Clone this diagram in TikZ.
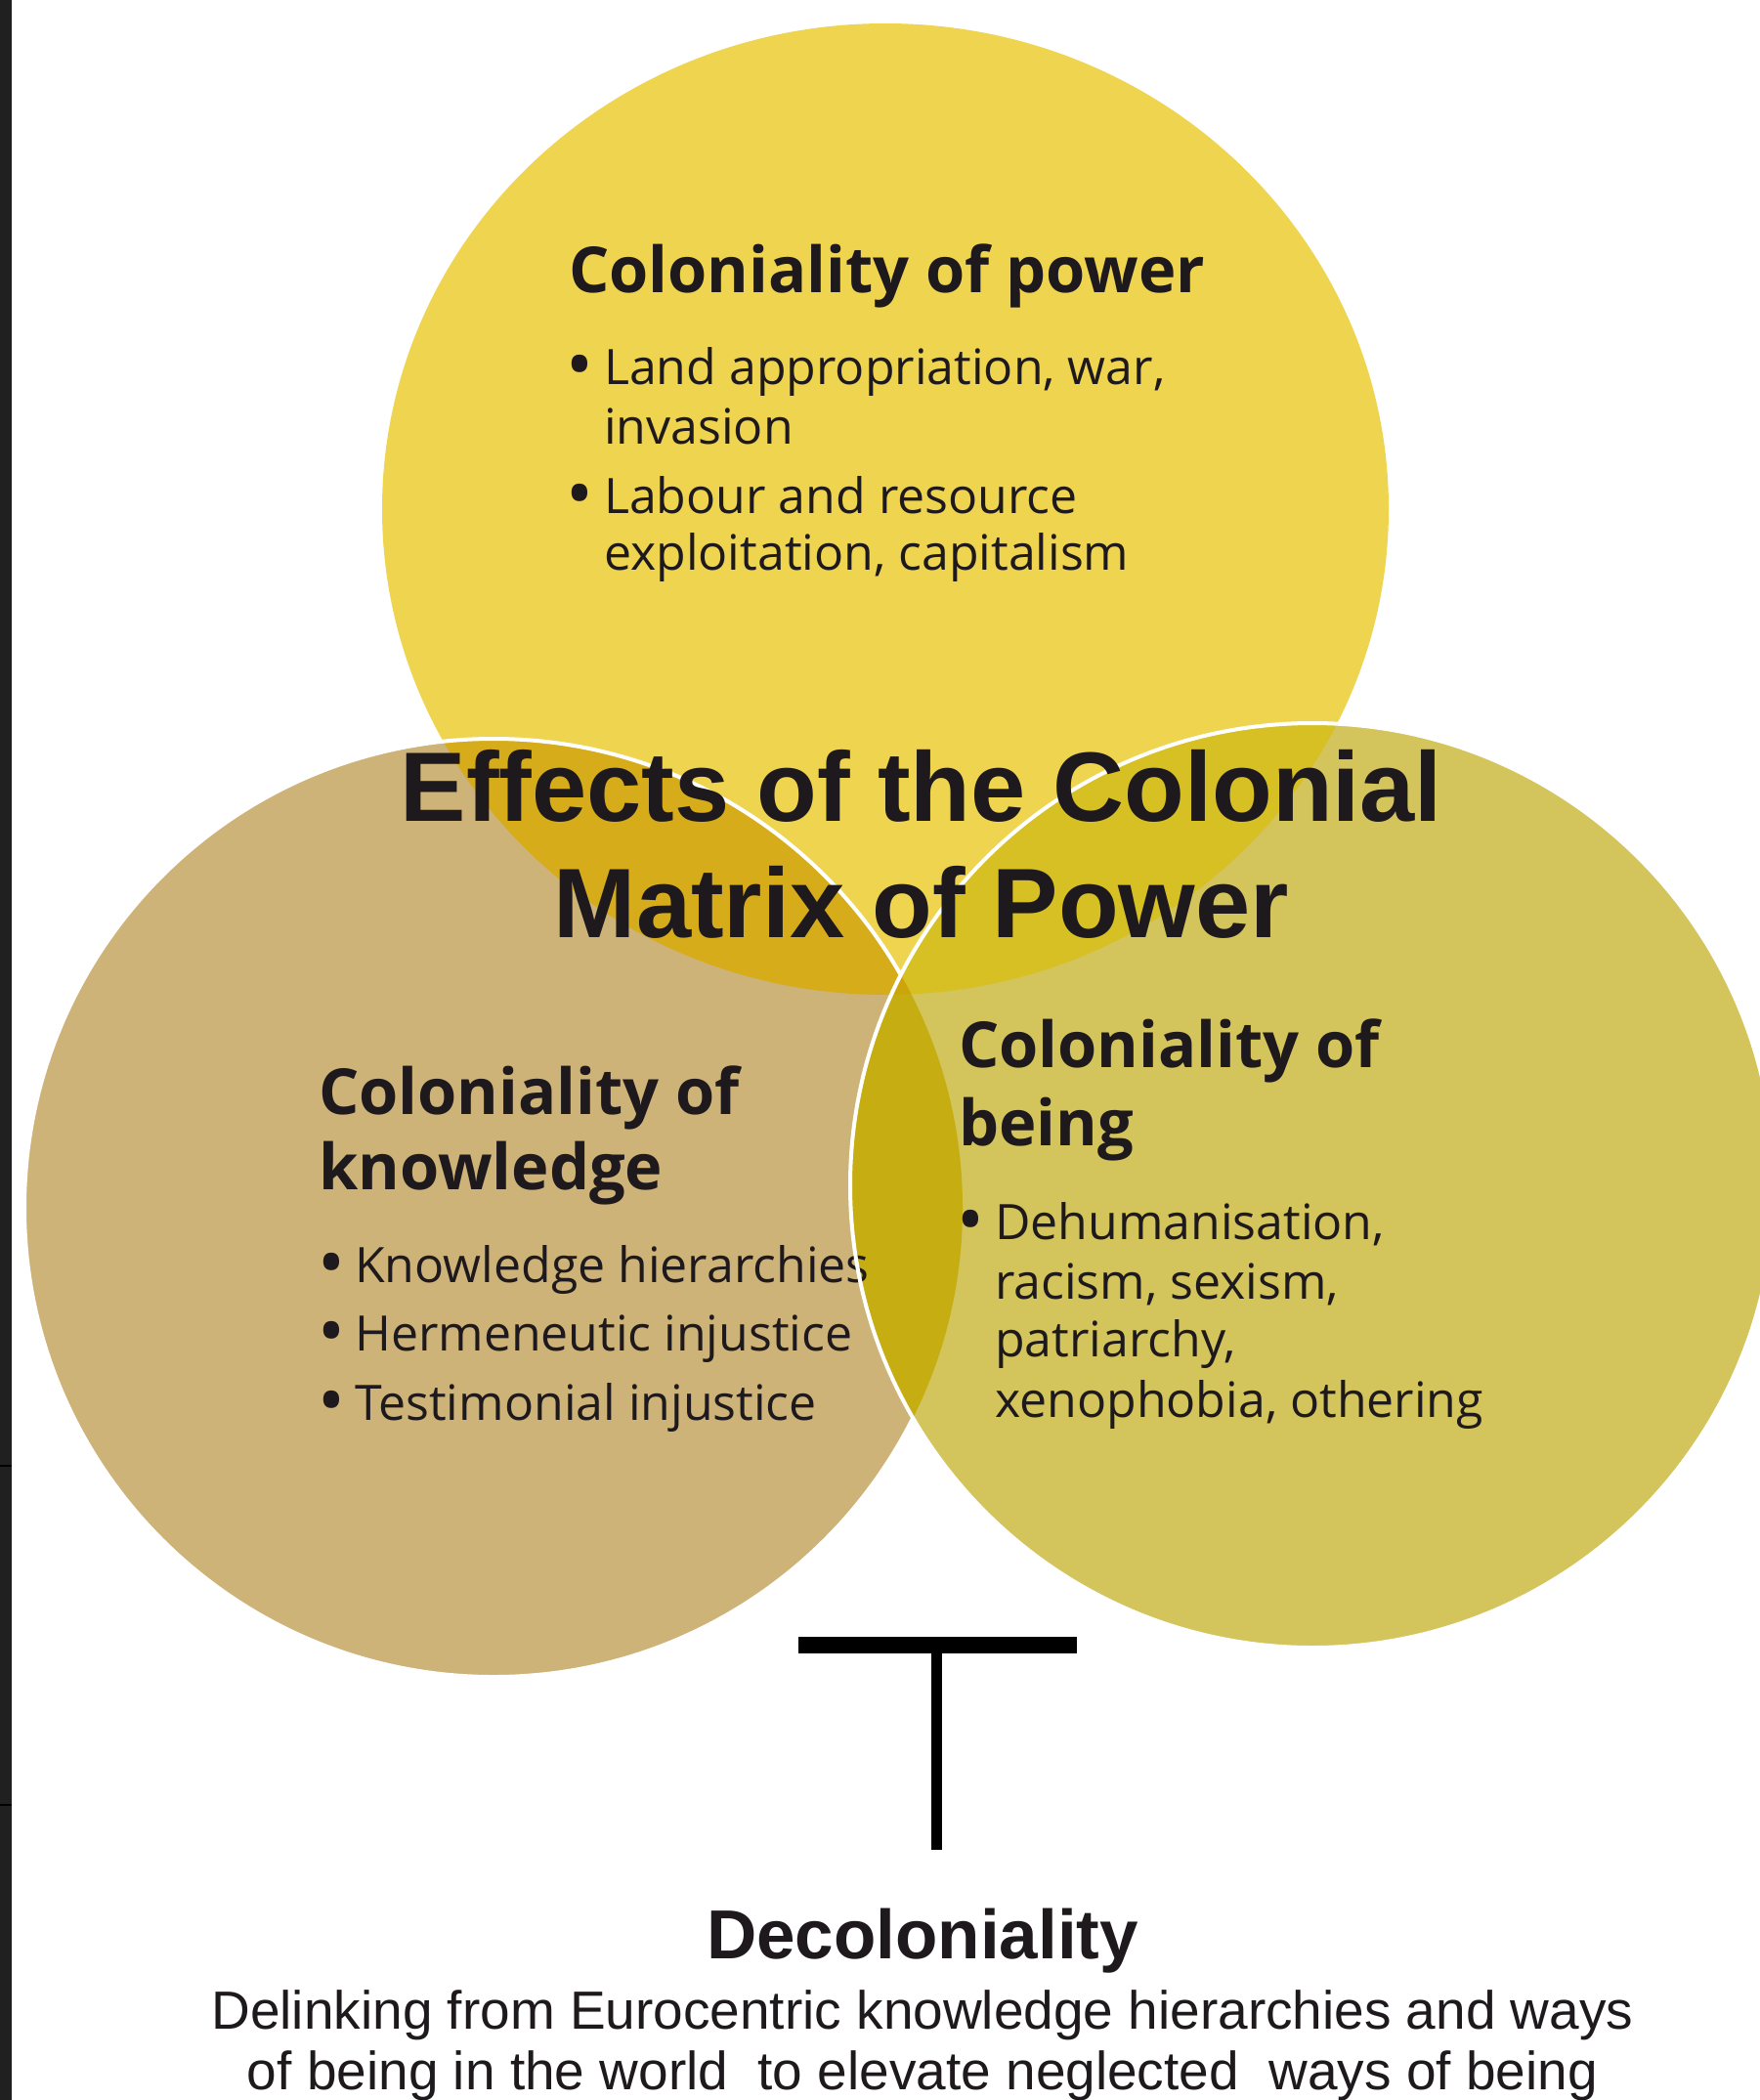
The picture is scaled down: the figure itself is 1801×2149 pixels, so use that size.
\documentclass[tikz,border=0pt]{standalone}
\usepackage{fontspec}
\setmainfont{Liberation Sans}
\newfontfamily\apt{Open Sans}
\definecolor{topc}{RGB}{238,212,79}
\definecolor{leftc}{RGB}{206,179,120}
\definecolor{rightc}{RGB}{211,196,91}
\definecolor{tlc}{RGB}{214,172,26}
\definecolor{trc}{RGB}{214,192,36}
\definecolor{lrc}{RGB}{198,174,18}
\definecolor{triplec}{RGB}{205,165,10}
\definecolor{ink}{RGB}{30,25,28}
\definecolor{strip}{RGB}{32,32,32}
\begin{document}
\begin{tikzpicture}[x=1pt,y=-1pt,
  hd/.style={font=\apt\bfseries\fontsize{65}{77}\selectfont, text=ink, anchor=base west, inner sep=0pt},
  bd/.style={font=\apt\fontsize{50}{61}\selectfont, text=ink, anchor=base west, inner sep=0pt},
  bul/.style={font=\apt\bfseries\fontsize{58}{61}\selectfont, text=ink, anchor=base west, inner sep=0pt},
  ttl/.style={font=\bfseries\fontsize{101}{119}\selectfont, text=ink, anchor=base, inner sep=0pt},
  dec/.style={font=\bfseries\fontsize{71}{85}\selectfont, text=ink, anchor=base, inner sep=0pt},
  decb/.style={font=\fontsize{55}{62}\selectfont, text=ink, anchor=base, inner sep=0pt},
  rim/.style={draw=white, line width=4pt}]
\useasboundingbox (0,0) rectangle (1801,2149);
\fill[white] (0,0) rectangle (1801,2149);
\fill[strip] (0,0) rectangle (12,2149);
\draw[black, line width=2pt] (0,1500) -- (12,1500);
\draw[black, line width=2pt] (0,1847) -- (12,1847);

% circles
\coordinate (cT) at (906,521);
\coordinate (cL) at (505,1236);
\coordinate (cR) at (1343,1213);
\fill[topc] (906,521) ellipse [x radius=515pt, y radius=497pt];
\fill[leftc] (505,1236) circle [radius=480pt];
\begin{scope}
  \clip (906,521) ellipse [x radius=515pt, y radius=497pt];
  \fill[tlc] (505,1236) circle [radius=480pt];
\end{scope}
\draw[rim] (505,1236) circle [radius=480pt];
\fill[rightc] (1343,1213) circle [radius=473pt];
\begin{scope}
  \clip (906,521) ellipse [x radius=515pt, y radius=497pt];
  \fill[trc] (1343,1213) circle [radius=473pt];
\end{scope}
\begin{scope}
  \clip (505,1236) circle [radius=480pt];
  \fill[lrc] (1343,1213) circle [radius=473pt];
\end{scope}
\begin{scope}
  \clip (906,521) ellipse [x radius=515pt, y radius=497pt];
  \clip (505,1236) circle [radius=480pt];
  \fill[triplec] (1343,1213) circle [radius=473pt];
\end{scope}

% top circle text
\node[hd] (ph) at (582,299) {Coloniality of power};
\node[bul] (pb1) at (582,393) {•};
\node[bd] (p1) at (618,393) {Land appropriation, war,};
\node[bd] (p2) at (618,454) {invasion};
\node[bul] (pb2) at (582,525) {•};
\node[bd] (p3) at (618,525) {Labour and resource};
\node[bd] (p4) at (618,583) {exploitation, capitalism};

% left circle text
\node[hd] (kh1) at (326,1140) {Coloniality of};
\node[hd] (kh2) at (326,1217) {knowledge};
\node[bul] (kb1) at (328,1312) {•};
\node[bd] (k1) at (363,1312) {Knowledge hierarchies};
\node[bul] (kb2) at (328,1382) {•};
\node[bd] (k2) at (363,1382) {Hermeneutic injustice};
\node[bul] (kb3) at (328,1453) {•};
\node[bd] (k3) at (363,1453) {Testimonial injustice};

\draw[rim] (1343,1213) circle [radius=473pt];

% right circle text
\node[hd] (bh1) at (981,1092) {Coloniality of};
\node[hd] (bh2) at (981,1172) {being};
\node[bul] (bb1) at (982,1268) {•};
\node[bd] (b1) at (1018,1268) {Dehumanisation,};
\node[bd] (b2) at (1018,1329) {racism, sexism,};
\node[bd] (b3) at (1018,1388) {patriarchy,};
\node[bd] (b4) at (1018,1450) {xenophobia, othering};

% title
\node[ttl] (t1) at (943,840) {Effects of the Colonial};
\node[ttl] (t2) at (943,959) {Matrix of Power};

% blocking T
\coordinate (tl) at (817,1683);
\coordinate (tr) at (1102,1683);
\coordinate (tm) at (958,1683);
\coordinate (tb) at (958,1893);
\draw[black, line width=17pt] (tl) -- (tr);
\draw[black, line width=11pt] (tm) -- (tb);

% decoloniality
\node[dec] (d0) at (944,2004) {Decoloniality};
\node[decb] (d1) at (944,2076) {Delinking from Eurocentric knowledge hierarchies and ways};
\node[decb] (d2) at (944,2138) {of being in the world~ to elevate neglected~ ways of being};
\end{tikzpicture}
\end{document}
